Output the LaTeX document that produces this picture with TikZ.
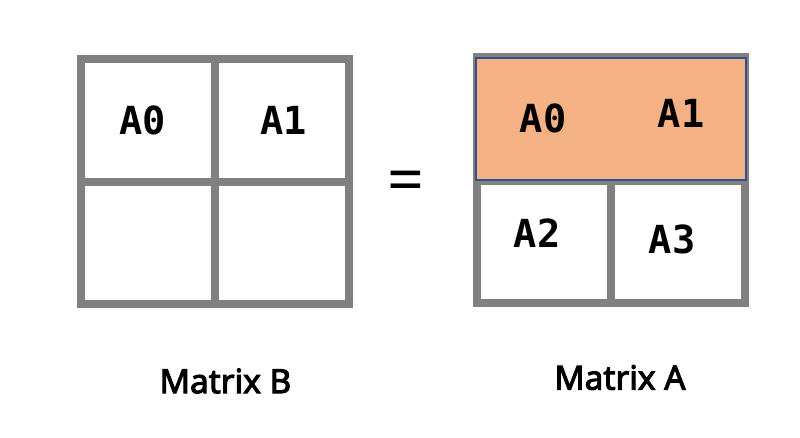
\documentclass[tikz,border=0pt]{standalone}
\usepackage{fontspec}
\setmainfont{Noto Sans}
\newfontfamily\cellfont{DejaVu Sans Mono}
\newfontfamily\capfont[FakeBold=3]{Noto Sans}
\usepackage{tikz}
\usetikzlibrary{positioning}
\definecolor{gridgray}{RGB}{128,128,128}
\definecolor{rowfill}{RGB}{244,177,131}
\definecolor{rowedge}{RGB}{47,82,143}

\begin{document}
\begin{tikzpicture}[
    x=0.03cm, y=-0.03cm,
    grid/.style={draw=gridgray, line width=0.24cm},
    cell/.style={font=\cellfont\bfseries\fontsize{33}{33}\selectfont, inner sep=0pt},
    caption/.style={font=\capfont\fontsize{28.5}{28.5}\selectfont, inner sep=0pt},
    row/.style={fill=rowfill, draw=rowedge, line width=1.2pt}
]
    \useasboundingbox (0,0) rectangle (800,437);
    % Matrix B
    \draw[grid] (81,59) rectangle (349,304);
    \draw[grid] (215,59) -- (215,304);
    \draw[grid] (81,182) -- (349,182);
    \node[cell] (b0) at (143,120) {A0};
    \node[cell] (b1) at (284,120) {A1};
    \node[caption] (capB) at (225.5,381) {Matrix B};
    % equals
    \node[font=\fontsize{55}{55}\selectfont, inner sep=0pt] (eq) at (406,187) {=};
    % Matrix A
    \draw[grid] (477,57) rectangle (745,303);
    \draw[grid] (611,181) -- (611,303);
    \draw[grid] (477,181) -- (745,181);
    \draw[row] (476,58) rectangle (746,180);
    \node[cell] (a0) at (543,118) {A0};
    \node[cell] (a1) at (681,113) {A1};
    \node[cell] (a2) at (537,233) {A2};
    \node[cell] (a3) at (672,239) {A3};
    \node[caption] (capA) at (620,377.5) {Matrix A};
\end{tikzpicture}
\end{document}
